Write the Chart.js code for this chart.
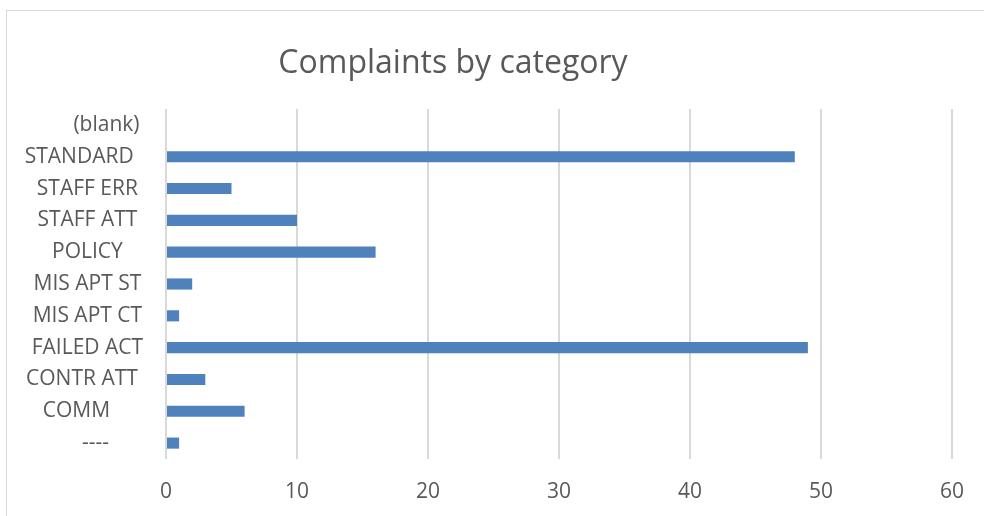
<!DOCTYPE html>
<html>
<head>
<meta charset="utf-8">
<script src="https://cdn.jsdelivr.net/npm/chart.js@4/dist/chart.umd.min.js"></script>
<style>
  html, body { margin: 0; padding: 0; background: #fff; overflow: hidden; }
  #wrap { position: relative; width: 984px; height: 516px; }
  #frame { position: absolute; left: 6px; top: 10px; width: 1000px; height: 520px; border: 1px solid #d9d9d9; box-sizing: border-box; }
  #complaintsChart { position: absolute; left: 0; top: 0; }
</style>
</head>
<body>
<div id="wrap">
  <div id="frame"></div>
  <canvas id="complaintsChart" width="984" height="516"></canvas>
</div>
<script>
"use strict";

// categories as they come from the pivot, spacing kept
const categories = [
  "       (blank)",
  "STANDARD   ",
  "STAFF ERR",
  "STAFF ATT",
  "POLICY",
  "MIS APT ST",
  "MIS APT CT",
  "FAILED ACT",
  "CONTR ATT  ",
  "COMM    ",
  "   ----"
];
const complaintCounts = [null, 48, 5, 10, 16, 2, 1, 49, 3, 6, 1];
const xTicks = [0, 10, 20, 30, 40, 50, 60];
const chartTitle = "Complaints by category";

const TEXT = "#595959";
const GRID = "#d9d9d9";
const FONT = "'Open Sans', 'Liberation Sans', sans-serif";

// title drawn by hand so it can sit off-centre like the workbook version
const titlePlugin = {
  id: "headline",
  afterDraw(chart) {
    const ctx = chart.ctx;
    ctx.save();
    ctx.fillStyle = TEXT;
    ctx.font = `32px ${FONT}`;
    ctx.textAlign = "center";
    ctx.textBaseline = "alphabetic";
    ctx.fillText(chartTitle, 453, 73);
    ctx.restore();
  }
};

window.addEventListener("DOMContentLoaded", () => {
  const canvas = document.getElementById("complaintsChart");
  new Chart(canvas, {
    type: "bar",
    data: {
      labels: categories,
      datasets: [
        {
          label: "Count",
          data: complaintCounts,
          backgroundColor: "#4f81bd",
          borderWidth: 0,
          categoryPercentage: 1,
          barPercentage: 0.35
        }
      ]
    },
    options: {
      indexAxis: "y",
      responsive: false,
      animation: false,
      devicePixelRatio: 1,
      layout: { padding: { top: 109, right: 30, left: 0, bottom: 0 } },
      plugins: {
        legend: { display: false },
        tooltip: { enabled: false }
      },
      scales: {
        x: {
          min: xTicks[0],
          max: xTicks[xTicks.length - 1],
          afterBuildTicks: (scale) => {
            scale.ticks = xTicks.map((v) => ({ value: v }));
          },
          afterFit: (scale) => { scale.height = 57; },
          border: { display: false },
          grid: { color: GRID, lineWidth: 2, drawTicks: false },
          ticks: { color: TEXT, font: { family: FONT, size: 21 }, padding: 20, maxRotation: 0 }
        },
        y: {
          afterFit: (scale) => { scale.width = 166; },
          border: { display: false },
          grid: { display: false, drawTicks: false },
          ticks: { color: TEXT, font: { family: FONT, size: 21 }, padding: 16, crossAlign: "center", autoSkip: false }
        }
      }
    },
    plugins: [titlePlugin]
  });
});
</script>
</body>
</html>
